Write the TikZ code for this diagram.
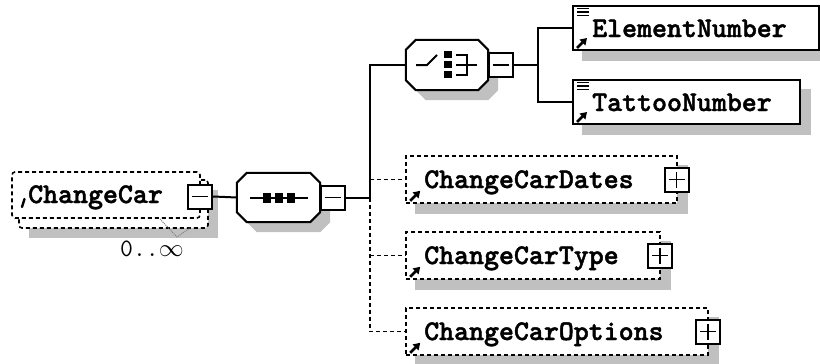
\documentclass[tikz,border=0pt]{standalone}
\usepackage{fontspec}
\newfontfamily\xsdfont{lmmonolt10-bold.otf}[FakeBold=1.6]
\usetikzlibrary{arrows.meta,calc}
\definecolor{shadowgray}{RGB}{192,192,192}
\pgfdeclarelayer{bglayer}
\pgfdeclarelayer{shadowlayer}
\pgfsetlayers{bglayer,shadowlayer,main}
\newcommand\octagonpath[4]{%
 \path[#4] ([shift={(#2+10,#3)}]#1.north west) -- ([shift={(#2-10,#3)}]#1.north east)
  -- ([shift={(#2,#3+10)}]#1.north east) -- ([shift={(#2,#3-10)}]#1.south east)
  -- ([shift={(#2-10,#3)}]#1.south east) -- ([shift={(#2+10,#3)}]#1.south west)
  -- ([shift={(#2,#3-10)}]#1.south west) -- ([shift={(#2,#3+10)}]#1.north west) -- cycle;}
\tikzset{
 ln/.style={line width=2pt},
 dsh/.style={line width=1.6pt, dash pattern=on 4pt off 3pt},
 elbox/.style={draw, fill=white, line width=2pt, inner sep=0pt},
 optbox/.style={elbox, line width=1.6pt, dash pattern=on 4pt off 3pt},
 hiddenbox/.style={draw=none, inner sep=0pt},
 togglebox/.style={draw, fill=white, line width=2pt, inner sep=0pt, minimum width=24pt, minimum height=24pt},
 minusbox/.style={togglebox, path picture={\draw[line width=1.6pt] ([xshift=4pt]path picture bounding box.west) -- ([xshift=-4pt]path picture bounding box.east);}},
 plusbox/.style={togglebox, path picture={\draw[line width=1.6pt] ([xshift=4pt]path picture bounding box.west) -- ([xshift=-4pt]path picture bounding box.east) ([yshift=4pt]path picture bounding box.south) -- ([yshift=-4pt]path picture bounding box.north);}},
 lbl/.style={anchor=base west, inner sep=0pt, font=\xsdfont\fontsize{28.5}{30}\selectfont},
 occlbl/.style={anchor=base west, inner sep=0pt, font=\ttfamily\fontsize{25}{27}\selectfont},
 refarrow/.style={line width=2.8pt, -{Triangle[length=6.5pt,width=8pt]}},
 shadowfill/.style={fill=shadowgray, draw=none},
}
\begin{document}
\begin{tikzpicture}[x=1pt,y=-1pt]
\begin{pgfonlayer}{bglayer}
\fill[white] (0,0) rectangle (820,364);
\end{pgfonlayer}
\useasboundingbox (0,0) rectangle (820,364);

% root element ChangeCar (0..unbounded), with its shadow drawn first
\path[shadowfill] (29,190) rectangle (218,238);
\node[optbox, rounded corners=3pt, minimum width=189pt, minimum height=48pt] (ccback) at (113.5,204) {};
\node[optbox, rounded corners=3pt, minimum width=188pt, minimum height=46pt] (ccfront) at (106,195) {};
\node[minusbox] (ccminus) at (200,196.5) {};
\node[lbl] (cctext) at (28,203) {ChangeCar};
\draw[line width=2.4pt, line cap=round] (24.5,199) -- (22,207);
\node[occlbl] (ccocc) at (120,256) {0..$\infty$};
\draw[gray, densely dotted, line width=1pt] (160,219) -- (177,237) -- (190,228);

% sequence compositor
\node[hiddenbox, minimum width=83pt, minimum height=49pt] (seq) at (278.5,197.5) {};
\octagonpath{seq}{0}{0}{draw, fill=white, ln}
\draw[ln] (250,197.5) -- (308,197.5);
\fill (262.5,192.5) rectangle (270.5,202.5);
\fill (274.5,192.5) rectangle (282.5,202.5);
\fill (286.5,192.5) rectangle (294.5,202.5);
\node[minusbox] (seqminus) at (332.5,197.5) {};
\coordinate (trunk) at (370,197.5);

% choice compositor
\node[hiddenbox, minimum width=82pt, minimum height=50pt] (choice) at (447,65) {};
\octagonpath{choice}{0}{0}{draw, fill=white, ln}
\draw[ln] (416,65) -- (427,65) -- (437,55);
\fill (443.5,50.5) rectangle (451.5,58);
\fill (443.5,60.5) rectangle (451.5,68);
\fill (443.5,70.5) rectangle (451.5,78);
\draw[ln] (456,54.5) -- (467,54.5) -- (467,74.5) -- (456,74.5);
\draw[ln] (456,64.5) -- (477,64.5);
\node[minusbox] (choiceminus) at (500.5,65) {};
\coordinate (branch) at (538,65);

% choice children
\node[elbox, minimum width=246pt, minimum height=44pt] (elnum) at (696,28) {};
\node[elbox, minimum width=227pt, minimum height=44pt] (tattoo) at (686.5,102) {};
\node[lbl] (elnumtext) at (592,37) {ElementNumber};
\node[lbl] (tattootext) at (592,111) {TattooNumber};

% optional sequence children
\node[optbox, minimum width=271pt, minimum height=47pt] (dates) at (541.5,179.5) {};
\node[plusbox] (datesplus) at (676.5,179.5) {};
\node[lbl] (datestext) at (424,188) {ChangeCarDates};

\node[optbox, minimum width=254pt, minimum height=47pt] (type) at (533,255.5) {};
\node[plusbox] (typeplus) at (660,255.5) {};
\node[lbl] (typetext) at (424,264) {ChangeCarType};

\node[optbox, minimum width=302pt, minimum height=47pt] (options) at (557,331.5) {};
\node[plusbox] (optionsplus) at (708,331.5) {};
\node[lbl] (optionstext) at (424,340) {ChangeCarOptions};

% icons
\foreach \n in {elnum,tattoo}{
  \foreach \k in {3.5,7,10.5}{
    \draw[line width=1.4pt] ([shift={(5,\k)}]\n.north west) -- ++(12,0);
  }
}
\foreach \n in {elnum,tattoo,dates,type,options}{
  \draw[refarrow] ([shift={(5,-3)}]\n.south west) -- ++(10,-10);
}

% shadows
\begin{pgfonlayer}{shadowlayer}
\foreach \n in {elnum,tattoo,dates,type,options}{
  \path[shadowfill] ([shift={(10,10)}]\n.north west) rectangle ([shift={(10,10)}]\n.south east);
}
\octagonpath{seq}{10}{10}{shadowfill}
\octagonpath{choice}{10}{10}{shadowfill}
\end{pgfonlayer}

% connectors
\draw[ln] (ccminus.east) -- (seq.west);
\draw[ln] (seqminus.east) -- (trunk);
\draw[ln] (trunk) |- (choice.west);
\draw[ln] (choiceminus.east) -- (branch);
\draw[ln] (elnum.west) -| (branch) |- (tattoo.west);
\draw[dsh] (trunk) |- (options.west);
\draw[dsh] (dates.west -| trunk) -- (dates.west);
\draw[dsh] (type.west -| trunk) -- (type.west);
\end{tikzpicture}
\end{document}
